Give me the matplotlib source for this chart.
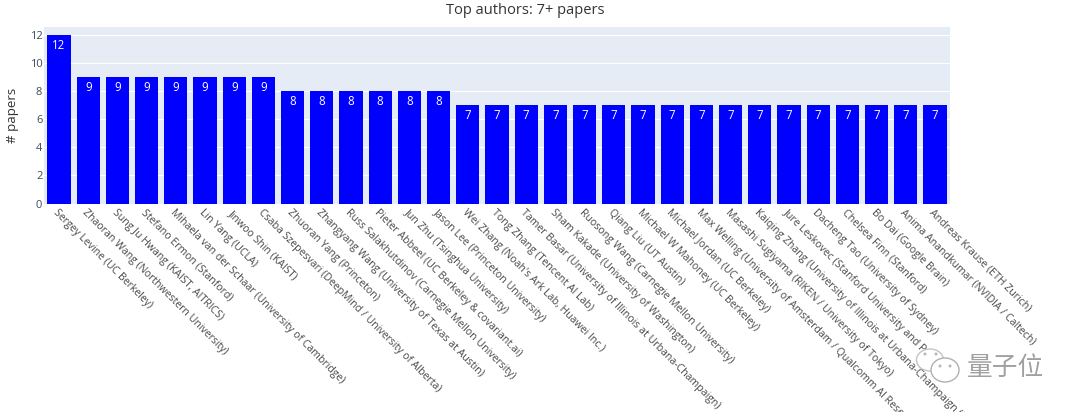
import matplotlib
matplotlib.use("Agg")
import matplotlib.pyplot as plt
from matplotlib.patches import Ellipse, Rectangle

plt.rcParams['font.family'] = ['Open Sans', 'Noto Sans CJK SC', 'DejaVu Sans']

authors = [
    "Sergey Levine (UC Berkeley)",
    "Zhaoran Wang (Northwestern University)",
    "Sung Ju Hwang (KAIST, AITRICS)",
    "Stefano Ermon (Stanford)",
    "Mihaela van der Schaar (University of Cambridge)",
    "Lin Yang (UCLA)",
    "Jinwoo Shin (KAIST)",
    "Csaba Szepesvari (DeepMind / University of Alberta)",
    "Zhuoran Yang (Princeton)",
    "Zhangyang Wang (University of Texas at Austin)",
    "Russ Salakhutdinov (Carnegie Mellon University)",
    "Pieter Abbeel (UC Berkeley & covariant.ai)",
    "Jun Zhu (Tsinghua University)",
    "Jason Lee (Princeton University)",
    "Wei Zhang (Noah's Ark Lab, Huawei Inc.)",
    "Tong Zhang (Tencent AI Lab)",
    "Tamer Basar (University of Illinois at Urbana-Champaign)",
    "Sham Kakade (University of Washington)",
    "Ruosong Wang (Carnegie Mellon University)",
    "Qiang Liu (UT Austin)",
    "Michael W Mahoney (UC Berkeley)",
    "Michael Jordan (UC Berkeley)",
    "Max Welling (University of Amsterdam / Qualcomm AI Research)",
    "Masashi Sugiyama (RIKEN / University of Tokyo)",
    "Kaiqing Zhang (University of Illinois at Urbana-Champaign (UIUC))",
    "Jure Leskovec (Stanford University and P",
    "Dacheng Tao (University of Sydney)",
    "Chelsea Finn (Stanford)",
    "Bo Dai (Google Brain)",
    "Anima Anandkumar (NVIDIA / Caltech)",
    "Andreas Krause (ETH Zurich)",
]
papers = [12, 9, 9, 9, 9, 9, 9, 9, 8, 8, 8, 8, 8, 8,
          7, 7, 7, 7, 7, 7, 7, 7, 7, 7, 7, 7, 7, 7, 7, 7, 7]
y_ticks = [0, 2, 4, 6, 8, 10, 12]

W, H = 1080, 416
fig = plt.figure(figsize=(W / 100, H / 100), dpi=100, facecolor='white')
ax = fig.add_axes([44.4 / W, 1 - 203.5 / H, (949.6 - 44.4) / W, (203.5 - 27) / H])
ax.set_facecolor('#E5ECF6')
positions = list(range(len(authors)))
bars = ax.bar(positions, papers, width=0.8, color='#0000FF', zorder=3)
ax.set_xlim(-0.5, len(authors) - 0.5)
ax.set_ylim(0, 12.57)
ax.set_yticks(y_ticks)
ax.grid(axis='y', color='white', linewidth=0.8, zorder=1)
ax.set_axisbelow(True)
for s in ax.spines.values():
    s.set_visible(False)
ax.tick_params(axis='y', length=0, pad=1.5, labelsize=8, labelcolor='#3f4a5c')
ax.tick_params(axis='x', length=0, pad=3)
ax.set_xticks(positions)
ax.set_xticklabels(authors, rotation=-45, ha='left', va='top', rotation_mode='anchor',
                   fontsize=7.6, color='#484848')
for rect, v in zip(bars, papers):
    ax.annotate(str(v), (rect.get_x() + rect.get_width() / 2, v), xytext=(0, -3),
                textcoords='offset points', ha='center', va='top', color='white',
                fontsize=8.3, zorder=4)

fig.text(525 / W, 1 - 10 / H, "Top authors: 7+ papers", ha='center', va='center',
         fontsize=10.5, color='#333333')
fig.text(12.5 / W, 1 - 115 / H, "# papers", rotation=90, ha='center', va='center',
         fontsize=9.6, color='#333333')

# watermark and the strip that trims the labels at the bottom
ov = fig.add_axes([0, 0, 1, 1], facecolor='none')
ov.set_xlim(0, W)
ov.set_ylim(H, 0)
ov.axis('off')
ov.add_patch(Rectangle((0, 412), W, 4, facecolor='white', edgecolor='none'))
ov.add_patch(Ellipse((930, 360), 27, 22, facecolor='white', edgecolor='#c4c4c4', linewidth=1))
ov.add_patch(Ellipse((945, 370), 28, 24, facecolor='white', edgecolor='#b0b0b0', linewidth=1))
for cx, cy in [(925, 354), (936, 354), (940, 366), (950, 366)]:
    ov.add_patch(Ellipse((cx, cy), 3, 3, facecolor='#b8b8b8', edgecolor='none'))
ov.text(1005, 368, "量子位", fontsize=18.5, color='#a0a0a0', ha='center', va='center',
        family=['Noto Sans CJK SC', 'DejaVu Sans'])

fig.savefig('out.png', dpi=100)
